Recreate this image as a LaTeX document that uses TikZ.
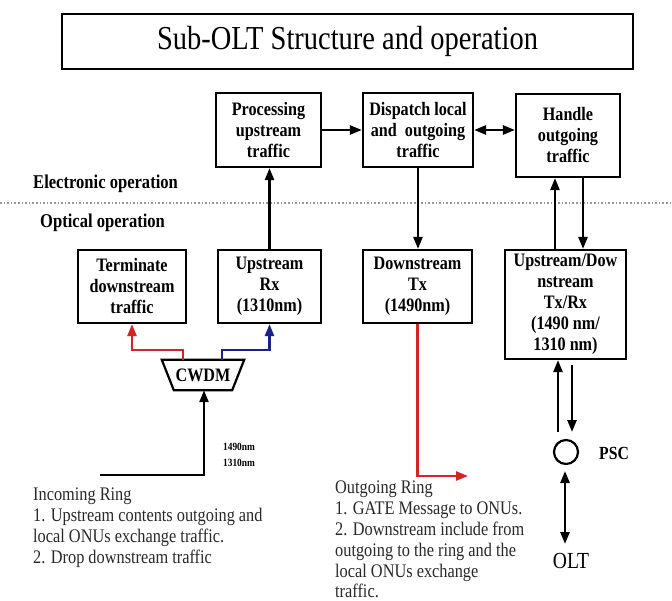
\documentclass[tikz,border=0pt]{standalone}
\usepackage{fontspec}
\setmainfont{Liberation Serif}[FakeStretch=0.85]
\usetikzlibrary{arrows.meta}
\definecolor{linkred}{RGB}{215,35,35}
\definecolor{linkblue}{RGB}{25,35,140}
\definecolor{sepgray}{RGB}{150,150,150}
\definecolor{notegray}{RGB}{40,40,40}
\tikzset{
  box/.style={draw, line width=2.2pt, align=center, inner sep=0pt,
    font=\bfseries\fontsize{19}{21}\selectfont},
  titlebox/.style={draw, line width=2.6pt, inner sep=0pt,
    font=\fontsize{33.5}{36}\selectfont},
  tip/.style={-{Triangle[length=12pt,width=9pt]}},
  arr/.style={tip, line width=2.4pt},
  darr/.style={{Triangle[length=12pt,width=9pt]}-{Triangle[length=12pt,width=9pt]}, line width=2.6pt},
  redarr/.style={arr, color=linkred},
  bluearr/.style={arr, color=linkblue},
  layer/.style={font=\bfseries\fontsize{19.5}{21}\selectfont, inner sep=0pt, anchor=west},
  note/.style={font=\fontsize{19.2}{20.8}\selectfont, text=notegray, align=left, inner sep=0pt, anchor=north west},
}
\begin{document}
\begin{tikzpicture}[x=1pt,y=-1pt]
\useasboundingbox (0,0) rectangle (672,601);

% title
\node[titlebox, minimum width=571, minimum height=55] (title) at (347.5,41.5)
  {Sub-OLT Structure and operation};

% electronic layer
\node[box, minimum width=105, minimum height=74] (proc) at (268.5,130)
  {Processing\\upstream\\traffic};
\node[box, minimum width=110, minimum height=74] (disp) at (418,130)
  {Dispatch local\\and\ \ outgoing\\traffic};
\node[box, minimum width=104, minimum height=83] (hand) at (568,135.5)
  {Handle\\outgoing\\traffic};

\node[layer] (elec) at (33,184) {Electronic operation};
\draw[sepgray, line width=1.6pt, dotted] (0,203) -- (672,203);
\node[layer] (opt) at (40,223) {Optical operation};

% optical layer
\node[box, minimum width=108, minimum height=73] (term) at (132,286.5)
  {Terminate\\downstream\\traffic};
\node[box, minimum width=103, minimum height=73] (uprx) at (269.5,286.5)
  {Upstream\\Rx\\(1310nm)};
\node[box, minimum width=109, minimum height=73] (dtx) at (417.5,286.5)
  {Downstream\\Tx\\(1490nm)};
\node[box, minimum width=121, minimum height=109] (updn) at (565.5,304.5)
  {Upstream/Dow\\nstream\\Tx/Rx\\(1490 nm/\\1310 nm)};

% CWDM splitter
\node[font=\bfseries\fontsize{19}{21}\selectfont, inner sep=0pt,
  minimum width=82, minimum height=30] (cwdm) at (203,375) {CWDM};
\draw[line width=2.2pt, line join=miter]
  (cwdm.north west) -- (cwdm.north east) -- ([xshift=-12pt]cwdm.south east)
  -- ([xshift=12pt]cwdm.south west) -- cycle;

% electronic connectors
\draw[arr] (proc) -- (disp);
\draw[darr] (disp.east) -- (disp.east -| hand.west);
\draw[arr] (uprx.north) -- (uprx.north |- proc.south);
\draw[arr] (disp.south) -- (disp.south |- dtx.north);
\draw[arr] ([xshift=-10.5pt]updn.north) -- ([xshift=-10.5pt]updn.north |- hand.south);
\draw[arr] ([xshift=17.5pt]updn.north |- hand.south) -- ([xshift=17.5pt]updn.north);

% CWDM branches
\draw[redarr] ([xshift=-20pt]cwdm.north) -- ++(0,-10) -| (term.south);
\draw[bluearr] ([xshift=19pt]cwdm.north) -- ++(0,-10) -| (uprx.south);

% incoming ring
\coordinate (inL) at (100,475);
\draw[arr] (inL) -| ([xshift=1pt]cwdm.south);
\node[font=\bfseries\fontsize{11}{16}\selectfont, align=left, inner sep=0pt,
  anchor=west] (wl) at (223,455) {1490nm\\1310nm};
\node[note] (inring) at (33,488)
  {Incoming Ring\\
   1. Upstream contents outgoing and\\
   local ONUs exchange traffic.\\
   2. Drop downstream traffic};

% outgoing ring
\coordinate (rc) at (417.5,476);
\coordinate (rend) at (468,476);
\draw[redarr] (dtx.south) -- (rc) -- (rend);
\node[note] (outring) at (335,481)
  {Outgoing Ring\\
   1. GATE Message to ONUs.\\
   2. Downstream include from\\
   outgoing to the ring and the\\
   local ONUs exchange\\
   traffic.};

% passive splitter and OLT
\node[draw, circle, line width=2.2pt, minimum size=24, inner sep=0pt] (psc) at (566,452) {};
\node[font=\bfseries\fontsize{18.5}{19}\selectfont, inner sep=0pt, anchor=west] (psclbl) at (599,453) {PSC};
\coordinate (ua) at (558,432);
\draw[arr] (ua) -- (ua |- updn.south);
\coordinate (dtop) at (572,365);
\coordinate (dbot) at (572,432);
\draw[arr] (dtop) -- (dbot);
\coordinate (o1) at (565,471);
\coordinate (o2) at (565,544);
\draw[darr] (o1) -- (o2);
\node[font=\fontsize{23}{25}\selectfont, inner sep=0pt] (olt) at (571,561) {OLT};
\end{tikzpicture}
\end{document}
